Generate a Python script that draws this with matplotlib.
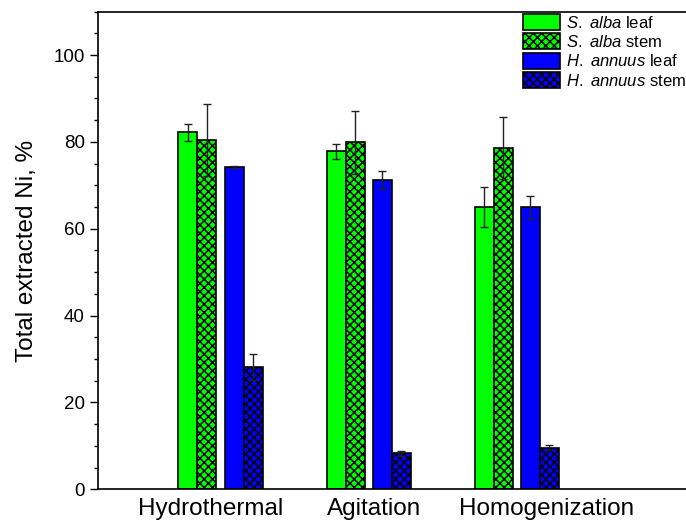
import numpy as np
import matplotlib
matplotlib.use('Agg')
import matplotlib.pyplot as plt
from matplotlib.ticker import MultipleLocator

plt.rcParams['font.family'] = ['Liberation Sans', 'DejaVu Sans']
plt.rcParams['mathtext.fontset'] = 'custom'
plt.rcParams['mathtext.it'] = 'Liberation Sans:italic'
plt.rcParams['mathtext.rm'] = 'Liberation Sans'
plt.rcParams['hatch.linewidth'] = 1.1

# data
methods = ['Hydrothermal', 'Agitation', 'Homogenization']
series = [r'$\it{S.}$ $\it{alba}$ leaf', r'$\it{S.}$ $\it{alba}$ stem',
          r'$\it{H.}$ $\it{annuus}$ leaf', r'$\it{H.}$ $\it{annuus}$ stem']
s_alba_leaf = [82.2, 77.8, 65.0]
s_alba_leaf_err = [1.9, 1.7, 4.7]
s_alba_stem = [80.4, 79.9, 78.6]
s_alba_stem_err = [8.3, 7.3, 7.2]
h_annuus_leaf = [74.2, 71.2, 64.9]
h_annuus_leaf_err = [0.2, 2.0, 2.7]
h_annuus_stem = [28.1, 8.3, 9.6]
h_annuus_stem_err = [3.0, 0.6, 0.6]

values = [s_alba_leaf, s_alba_stem, h_annuus_leaf, h_annuus_stem]
errors = [s_alba_leaf_err, s_alba_stem_err, h_annuus_leaf_err, h_annuus_stem_err]
colors = ['#00ff00', '#00ff00', '#0000ff', '#0000ff']
hatches = [None, 'xxxx', None, 'xxxx']
offsets = [-0.222, -0.094, 0.09, 0.218]
width = 0.128

fig = plt.figure(figsize=(6.86, 5.29), dpi=100)
ax = fig.add_axes([0.143, 0.075, 0.87, 0.903])

x = np.arange(1, len(methods) + 1)
for vals, errs, c, h, off, lab in zip(values, errors, colors, hatches, offsets, series):
    ax.bar(x + off, vals, width, color=c, edgecolor='black', linewidth=1.2,
           hatch=h, label=lab, zorder=2)
    ax.errorbar(x + off, vals, yerr=errs, fmt='none', ecolor='#222222',
                elinewidth=1, capsize=3.2, capthick=1, zorder=3)

ax.set_xlim(0.172, 4.2)
ax.set_ylim(0, 110)
# category labels sit slightly off the group centres in the original
ax.set_xticks([0.931, 2.037, 3.201])
ax.set_xticklabels(methods, fontsize=17.5)
ax.tick_params(axis='x', length=0, pad=6)
ax.yaxis.set_major_locator(MultipleLocator(20))
ax.yaxis.set_minor_locator(MultipleLocator(5))
ax.tick_params(axis='y', which='major', length=5.5, width=1, labelsize=13.5, pad=4)
ax.tick_params(axis='y', which='minor', length=3, width=1)
ax.set_ylabel('Total extracted Ni, %', fontsize=17.5, labelpad=11)
for sp in ax.spines.values():
    sp.set_linewidth(1.2)

ax.legend(loc='upper left', bbox_to_anchor=(0.712, 0.995), frameon=False, fontsize=12,
          handlelength=2.2, handleheight=1.1, handletextpad=0.4, labelspacing=0.16,
          borderaxespad=0, borderpad=0)

fig.savefig('out.png', dpi=100)
